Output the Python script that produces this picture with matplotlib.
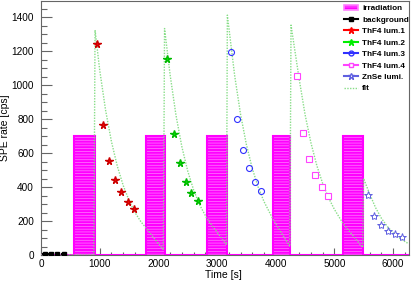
import numpy as np
import matplotlib.pyplot as plt
from matplotlib.lines import Line2D
from matplotlib.patches import Patch
from matplotlib.ticker import MultipleLocator

plt.rcParams['font.family'] = ['Liberation Sans', 'DejaVu Sans']
plt.rcParams['hatch.linewidth'] = 0.5

# irradiation periods (histogram edges / values)
irr_edges = [0, 554, 921, 1782, 2105, 2830, 3175, 3957, 4246, 5151, 5491, 6270]
irr_rate = [0, 700, 0, 700, 0, 700, 0, 700, 0, 700, 0]

bg_time = [60, 170, 280, 390]
bg_rate = [3, 3, 3, 3]

lum1_time = [962, 1064, 1166, 1267, 1369, 1476, 1583]
lum1_rate = [1239, 763, 551, 443, 369, 314, 271]

lum2_time = [2151, 2263, 2360, 2462, 2564, 2671]
lum2_rate = [1153, 712, 539, 431, 363, 316]

lum3_time = [3231, 3333, 3442, 3544, 3646, 3753]
lum3_rate = [1192, 802, 618, 510, 431, 376]

lum4_time = [4359, 4461, 4568, 4676, 4784, 4891]
lum4_rate = [1055, 720, 567, 471, 402, 347]

znse_time = [5566, 5678, 5792, 5906, 6030, 6143]
znse_rate = [353, 229, 176, 143, 124, 104]

fit_time = [0, 900, 921, 1000, 1100, 1200, 1300, 1400, 1500, 1600, 1700, 1782, 2085,
            2105, 2200, 2300, 2400, 2500, 2600, 2700, 2830, 3160,
            3175, 3300, 3400, 3500, 3600, 3700, 3800, 3957, 4240,
            4260, 4400, 4500, 4600, 4700, 4800, 4900, 5000, 5151, 5480,
            5495, 5600, 5700, 5800, 5900, 6000, 6100, 6250]
fit_rate = [0, 0, 1324, 1089, 853, 668, 523, 410, 321, 251, 197, 162, 30,
            1333, 1060, 822, 637, 494, 383, 297, 213, 60,
            1412, 1055, 828, 649, 509, 400, 314, 208, 50,
            1353, 1033, 825, 659, 526, 420, 336, 268, 183, 45,
            451, 359, 279, 216, 168, 130, 101, 69]

fig = plt.figure(figsize=(4.11, 2.82), dpi=100)
ax = fig.add_axes([41 / 411, 1 - 255 / 282, 368 / 411, 254 / 282])

magenta = '#ff00ff'
ax.stairs(irr_rate, irr_edges, fill=True, facecolor=magenta,
          edgecolor='#ff80ff', hatch='------', linewidth=0, zorder=2)
ax.stairs(irr_rate, irr_edges, fill=False, edgecolor=magenta,
          linewidth=1.5, zorder=3)

ax.plot(fit_time, fit_rate, color='#88dd88', linestyle=(0, (1, 1)),
        linewidth=1.0, zorder=4)

ax.errorbar(bg_time, bg_rate, xerr=45, fmt='s', color='black', ms=2.8,
            elinewidth=1.5, capsize=0, zorder=5)
ax.plot(lum1_time, lum1_rate, '*', color='red', mec='#cc0000', ms=5.5, zorder=5)
ax.plot(lum2_time, lum2_rate, '*', color='#00ee00', mec='#00bb00', ms=5.5, zorder=5)
ax.plot(lum3_time, lum3_rate, 'o', mfc='none', mec='#3030ff', ms=4.3, mew=0.8, zorder=5)
ax.plot(lum4_time, lum4_rate, 's', mfc='white', mec='#ff44ff', ms=4.3, mew=0.8, zorder=5)
ax.plot(znse_time, znse_rate, '*', mfc='white', mec='#6060e0', ms=6, mew=0.7, zorder=5)

ax.set_xlim(0, 6270)
ax.set_ylim(0, 1495)

ax.xaxis.set_major_locator(MultipleLocator(1000))
ax.xaxis.set_minor_locator(MultipleLocator(200))
ax.yaxis.set_major_locator(MultipleLocator(200))
ax.yaxis.set_minor_locator(MultipleLocator(50))
ax.tick_params(axis='both', which='both', direction='in', colors='#666666',
               labelcolor='black', labelsize=7.2)
ax.tick_params(axis='x', which='major', length=5, width=0.8, pad=3)
ax.tick_params(axis='x', which='minor', length=2.5, width=0.8)
ax.tick_params(axis='y', which='major', length=8, width=0.8, pad=5)
ax.tick_params(axis='y', which='minor', length=4, width=0.8)
for s in ax.spines.values():
    s.set_color('#666666')
    s.set_linewidth(0.8)

ax.set_xlabel('Time [s]', fontsize=7.5)
ax.set_ylabel('SPE rate [cps]', fontsize=7.5)
ax.xaxis.set_label_coords(0.495, -0.059)
ax.yaxis.set_label_coords(-0.084, 0.5)

handles = [
    Patch(facecolor=magenta, edgecolor='#ff80ff', hatch='------', linewidth=1.2),
    Line2D([], [], color='black', marker='s', ms=3),
    Line2D([], [], color='red', marker='*', ms=4.5),
    Line2D([], [], color='#00ee00', marker='*', ms=4.5),
    Line2D([], [], color='#3030ff', marker='o', mfc='none', ms=3.5),
    Line2D([], [], color='#ff44ff', marker='s', mfc='white', ms=3.5),
    Line2D([], [], color='#6060e0', marker='*', mfc='white', ms=4.5),
    Line2D([], [], color='#88dd88', linestyle=(0, (1, 1)), linewidth=1.0),
]
labels = ['irradiation', 'background', 'ThF4 lum.1', 'ThF4 lum.2', 'ThF4 lum.3',
          'ThF4 lum.4', 'ZnSe lumi.', 'fit']
ax.legend(handles, labels, loc='upper left', bbox_to_anchor=(0.812, 1.0),
          frameon=False, prop={'size': 5.9, 'weight': 'bold'},
          handlelength=1.8, handletextpad=0.5, labelspacing=0.45,
          borderpad=0.45, borderaxespad=0)

plt.savefig('out.png', dpi=100)
